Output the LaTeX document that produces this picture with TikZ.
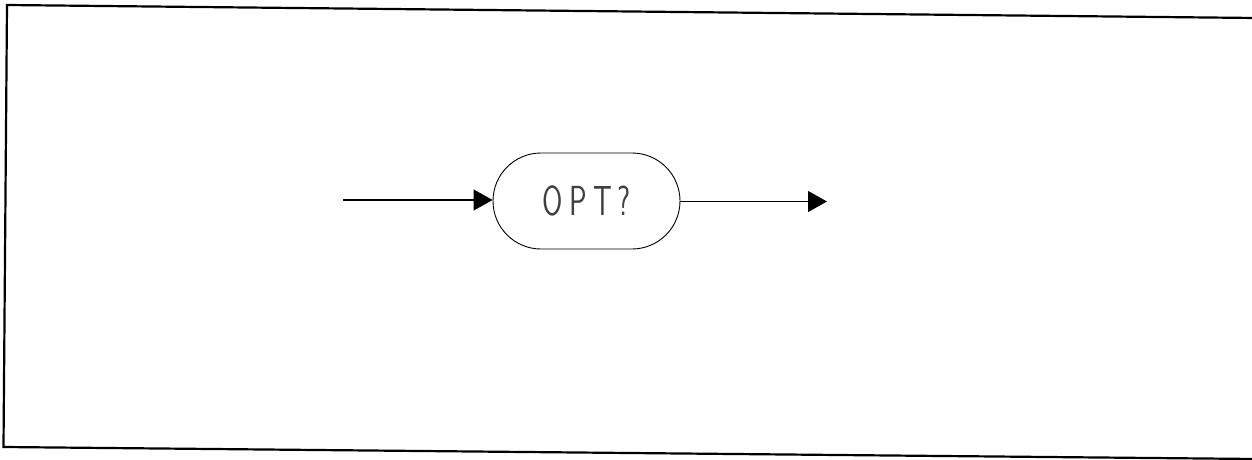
\documentclass[tikz,border=0pt]{standalone}
\usepackage{fontspec}
\usetikzlibrary{arrows.meta,shapes.misc}
\tikzset{
  termbox/.style={rounded rectangle, draw=black, line width=0.9pt,
    minimum width=187pt, minimum height=96pt, inner sep=0pt},
  flow/.style={draw=black, line width=1.2pt,
    -{Triangle[length=19pt,width=21pt]}},
  frameline/.style={draw=black, line width=2.2pt, line join=miter}
}
\begin{document}
\begin{tikzpicture}[x=1pt,y=-1pt]
\useasboundingbox (0,0) rectangle (1252,460);
\draw[frameline] (1256,18) -- (7,5) -- (3.5,447) -- (1256,459);
\node[termbox] (opt) at (586.5,201) {\scalebox{0.7}[1]{\fontsize{42}{42}\sffamily\color{black!75}O\kern9pt P\kern9pt T\kern8pt ?}};
\coordinate (in) at (343,200);
\coordinate (out) at (827,201.5);
\draw[flow] (in) -- (opt.west |- in);
\draw[flow] (opt.east |- out) -- (out);
\end{tikzpicture}
\end{document}
